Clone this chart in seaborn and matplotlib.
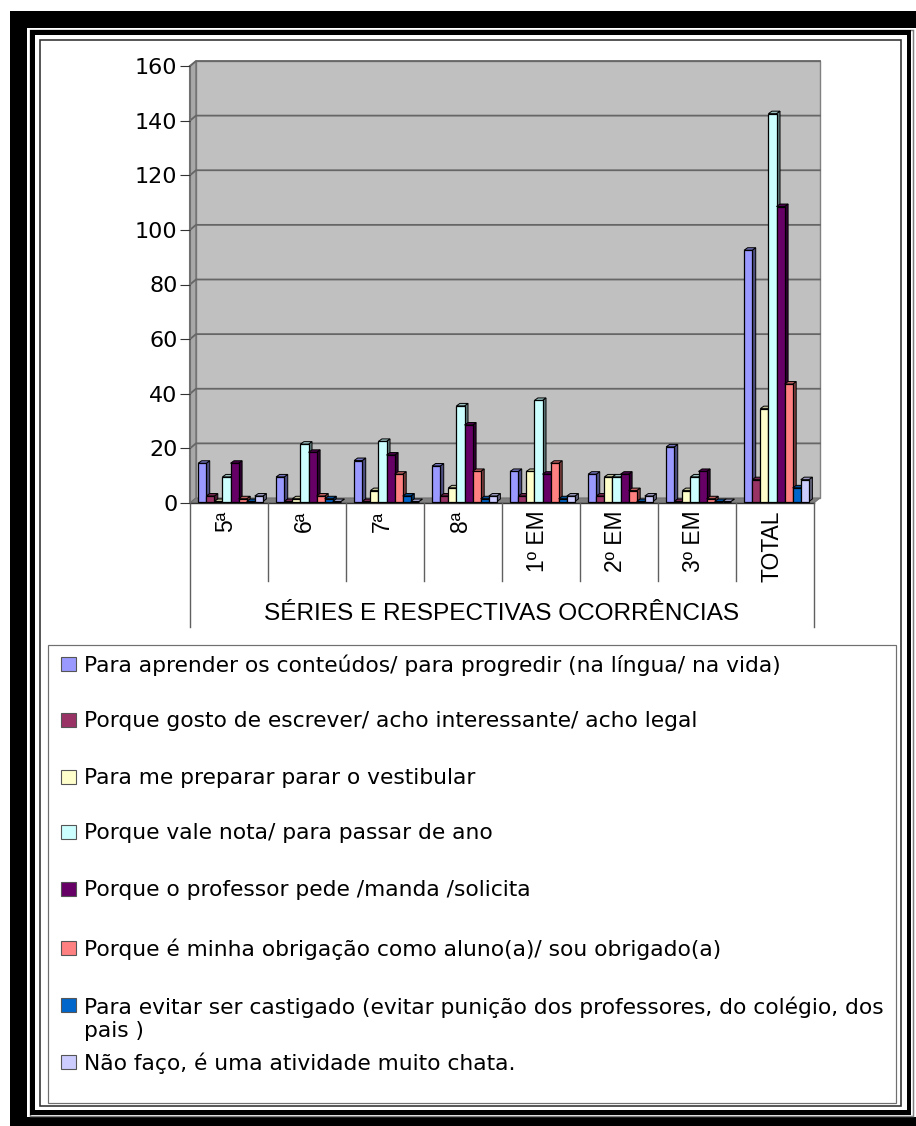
import pandas as pd
import matplotlib
matplotlib.use("Agg")
import matplotlib.pyplot as plt
from matplotlib.patches import Polygon, Rectangle
from matplotlib.transforms import Affine2D, ScaledTranslation
import seaborn as sns

series_labels = [
    "Para aprender os conteúdos/ para progredir (na língua/ na vida)",
    "Porque gosto de escrever/ acho interessante/ acho legal",
    "Para me preparar parar o vestibular",
    "Porque vale nota/ para passar de ano",
    "Porque o professor pede /manda /solicita",
    "Porque é minha obrigação como aluno(a)/ sou obrigado(a)",
    "Para evitar ser castigado (evitar punição dos professores, do colégio, dos\npais )",
    "Não faço, é uma atividade muito chata.",
]
colors = ["#9999FF", "#993366", "#FFFFCC", "#CCFFFF", "#660066", "#FF8080", "#0066CC", "#CCCCFF"]
categories = ["5ª", "6ª", "7ª", "8ª", "1º EM", "2º EM", "3º EM", "TOTAL"]

aprender = [14, 9, 15, 13, 11, 10, 20, 92]
gosto = [2, 0, 0, 2, 2, 2, 0, 8]
vestibular = [0, 1, 4, 5, 11, 9, 4, 34]
nota = [9, 21, 22, 35, 37, 9, 9, 142]
professor = [14, 18, 17, 28, 10, 10, 11, 108]
obrigacao = [1, 2, 10, 11, 14, 4, 1, 43]
castigo = [0, 1, 2, 1, 1, 0, 0, 5]
chata = [2, 0, 0, 2, 2, 2, 0, 8]
all_series = [aprender, gosto, vestibular, nota, professor, obrigacao, castigo, chata]

rows = []
for label, vals in zip(series_labels, all_series):
    for cat, v in zip(categories, vals):
        rows.append({"serie": cat, "motivo": label, "n": v})
df = pd.DataFrame(rows)

W, H = 916, 1126
plt.rcParams["font.family"] = ["DejaVu Sans"]
fig = plt.figure(figsize=(W / 100, H / 100), dpi=100, facecolor="white")

# overlay in pixel coords for the frame and the legend box
bg = fig.add_axes([0, 0, 1, 1], zorder=0)
bg.set_xlim(0, W)
bg.set_ylim(H, 0)
bg.axis("off")


def box(x0, y0, x1, y1, ec, lw):
    bg.add_patch(Rectangle((x0, y0), x1 - x0, y1 - y0, fill=False, ec=ec, lw=lw / 1.39, joinstyle="miter"))


def solid(x0, y0, x1, y1, fc):
    bg.add_patch(Rectangle((x0, y0), x1 - x0, y1 - y0, fc=fc, ec="none"))


# outer band, open on the right
solid(10, 11, 916, 28, "black")
solid(10, 11, 27, 1126, "black")
solid(10, 1117, 916, 1126, "black")
box(29.5, 29.5, 912.5, 1116, "#808080", 1.5)
# middle frame
solid(30, 30, 911, 35, "black")
solid(30, 30, 35, 1115, "black")
solid(907, 30, 911, 1115, "black")
solid(30, 1110, 911, 1115, "black")
# inner frame
box(39.5, 39.5, 901, 1106, "#303030", 1.6)
box(48, 645, 896, 1102.5, "#707070", 1.2)

ax = fig.add_axes([190 / W, 1 - 503 / H, 624 / W, 437 / H], zorder=1)
ax.patch.set_alpha(0)

sns.barplot(data=df, x="serie", y="n", hue="motivo", hue_order=series_labels, order=categories,
            palette=colors, saturation=1, width=0.83, gap=0, edgecolor="black", linewidth=0.9,
            legend=False, ax=ax)
ax.set_xlim(-0.5, 7.5)
ax.set_ylim(0, 160)

px_x = 8 / 624
px_y = 160 / 437
shift = ax.transData + Affine2D().translate(1.5, 1.5)

# back wall, side wall, floor and gridlines, pushed back by the chart depth
wall_dx, wall_dy = 6 * px_x, 5 * px_y
ax.add_patch(Rectangle((-0.5 + wall_dx, wall_dy), 8, 160, fc="#C0C0C0", ec="#808080", lw=1, clip_on=False, zorder=0.5))
ax.add_patch(Polygon([(-0.5, 0), (-0.5 + wall_dx, wall_dy), (-0.5 + wall_dx, 160 + wall_dy), (-0.5, 160)],
                     fc="#A8A8A8", ec="#707070", lw=1, clip_on=False, zorder=0.6))
ax.add_patch(Polygon([(-0.5, 0), (-0.5 + wall_dx, wall_dy), (7.5 + wall_dx, wall_dy), (7.5, 0)],
                     fc="#808080", ec="#707070", lw=0.7, clip_on=False, zorder=0.7))
for t in range(20, 180, 20):
    ax.plot([-0.5, -0.5 + wall_dx, 7.5 + wall_dx], [t, t + wall_dy, t + wall_dy], color="#666666", lw=1.3,
            clip_on=False, zorder=0.8)

# fake 3d: side and top face on every bar, drawn left to right
bar_dx, bar_dy = 3.5 * px_x, 2.5 * px_y
bars = sorted([p for p in ax.patches if isinstance(p, Rectangle) and p.get_width() < 0.2], key=lambda p: p.get_x())
for i, p in enumerate(bars):
    x0, x1, top = p.get_x(), p.get_x() + p.get_width(), p.get_height()
    r, g, b, _ = p.get_facecolor()
    z = 2 + i * 0.01
    p.set_transform(shift)
    p.set_clip_on(False)
    p.set_zorder(z + 0.002)
    ax.add_patch(Polygon([(x1, 0), (x1 + bar_dx, bar_dy), (x1 + bar_dx, top + bar_dy), (x1, top)],
                         fc=(r * 0.5, g * 0.5, b * 0.5), ec="black", lw=0.7, transform=shift,
                         clip_on=False, zorder=z))
    ax.add_patch(Polygon([(x0, top), (x0 + bar_dx, top + bar_dy), (x1 + bar_dx, top + bar_dy), (x1, top)],
                         fc=(r * 0.75, g * 0.75, b * 0.75), ec="black", lw=0.7, transform=shift,
                         clip_on=False, zorder=z + 0.001))

for s in ["top", "right", "bottom", "left"]:
    ax.spines[s].set_visible(False)

ax.set_yticks(range(0, 180, 20))
ax.tick_params(axis="y", length=7.2, width=0.8, color="#333333", pad=1.8, labelsize=16, labelcolor="black")
ax.tick_params(axis="x", length=0, pad=5.5, labelsize=16.5)
ax.set_ylabel("")
ax.set_xlabel("SÉRIES E RESPECTIVAS OCORRÊNCIAS", fontsize=17.6, family="Liberation Sans")
ax.xaxis.set_label_coords(0.5, -(614 - 503) / 437, transform=ax.transAxes)
ax.xaxis.label.set_verticalalignment("center")
for lab in ax.get_xticklabels():
    lab.set_rotation(90)
    lab.set_family("Liberation Sans")
    lab.set_verticalalignment("top")
    lab.set_horizontalalignment("center")
    lab.set_transform(lab.get_transform() + ScaledTranslation(-3 / 100, 0, fig.dpi_scale_trans))

# axis lines and category dividers below the plot
ax.plot([-0.5, 7.5], [0, 0], color="#333333", lw=1, clip_on=False, zorder=1.5)
for i in range(9):
    low = 627 if i in (0, 8) else 581
    ax.plot([i - 0.5, i - 0.5], [0, -(low - 503) * px_y], color="#606060", lw=1, clip_on=False, zorder=1.5)
ax.plot([-0.5, -0.5], [0, 160], color="#707070", lw=1.5, clip_on=False, zorder=1.5)

# legend
legend_y = [665, 721, 778, 833, 890, 949, 1006, 1063]
for y, label, c in zip(legend_y, series_labels, colors):
    bg.add_patch(Rectangle((60.5, y - 8), 15, 14, fc=c, ec="#555555", lw=0.8))
    bg.text(84, y - 10, label, fontsize=15.7, va="top", ha="left", color="black", linespacing=1.22)

fig.savefig("out.png", dpi=100)
